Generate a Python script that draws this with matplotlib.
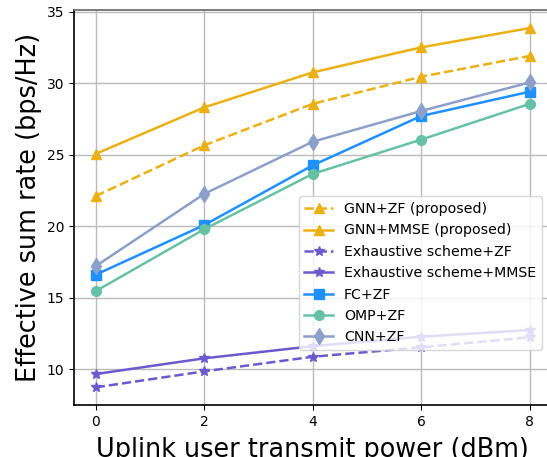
import matplotlib
matplotlib.use("Agg")
import matplotlib.pyplot as plt

power = [0, 2, 4, 6, 8]
gnn_zf = [22.1, 25.65, 28.55, 30.45, 31.9]
gnn_mmse = [25.05, 28.3, 30.75, 32.5, 33.85]
exh_zf = [8.72, 9.84, 10.86, 11.52, 12.22]
exh_mmse = [9.65, 10.75, 11.6, 12.26, 12.73]
fc_zf = [16.6, 20.07, 24.25, 27.7, 29.4]
omp_zf = [15.45, 19.78, 23.65, 26.05, 28.55]
cnn_zf = [17.2, 22.25, 25.9, 28.05, 30.05]

labels = ["GNN+ZF (proposed)", "GNN+MMSE (proposed)", "Exhaustive scheme+ZF",
          "Exhaustive scheme+MMSE", "FC+ZF", "OMP+ZF", "CNN+ZF"]

fig = plt.figure(figsize=(5.47, 4.57), dpi=100)
ax = fig.add_axes([0.1353, 0.1131, 0.8728, 0.8648])

c_gnn = "#EBB013"
c_exh = "#6A5ACD"
c_fc = "#1E90FF"
c_omp = "#66C2A5"
c_cnn = "#8DA0CB"

ax.plot(power, gnn_zf, color=c_gnn, ls="--", marker="^", ms=7, lw=1.8, label=labels[0])
ax.plot(power, gnn_mmse, color=c_gnn, ls="-", marker="^", ms=7, lw=1.8, label=labels[1])
ax.plot(power, exh_zf, color=c_exh, ls="--", marker="*", ms=7, lw=1.8, label=labels[2])
ax.plot(power, exh_mmse, color=c_exh, ls="-", marker="*", ms=7, lw=1.8, label=labels[3])
ax.plot(power, fc_zf, color=c_fc, ls="-", marker="s", ms=7, lw=1.8, label=labels[4])
ax.plot(power, omp_zf, color=c_omp, ls="-", marker="o", ms=7, lw=1.8, label=labels[5])
ax.plot(power, cnn_zf, color=c_cnn, ls="-", marker="d", ms=8, lw=1.8, label=labels[6])

ax.set_xticks(power)
ax.set_yticks([10, 15, 20, 25, 30, 35])
ax.grid(True, color="#bbbbbb", lw=1)
ax.set_axisbelow(True)
ax.tick_params(labelsize=10)
for s in ax.spines.values():
    s.set_linewidth(1.2)
ax.spines["top"].set_color("#666666")

ax.set_xlabel("Uplink user transmit power (dBm)", fontsize=18.4, labelpad=5.5)
ax.set_ylabel("Effective sum rate (bps/Hz)", fontsize=18.4, labelpad=3)

ax.legend(loc="lower right", bbox_to_anchor=(0.98, 0.14), borderaxespad=0,
          fontsize=10.2, labelspacing=0.52)

fig.savefig("out.png", dpi=100)
